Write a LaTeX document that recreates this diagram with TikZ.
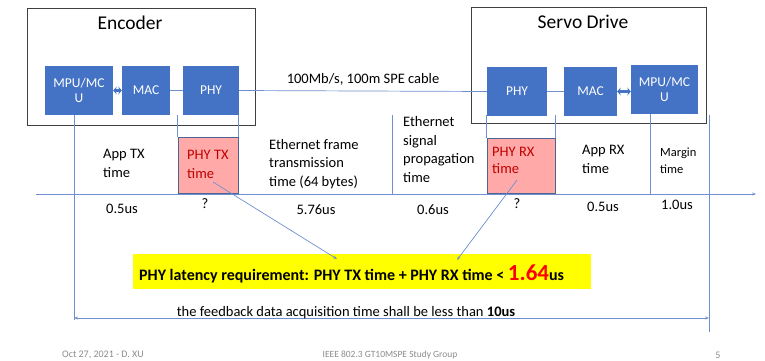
\documentclass[tikz,border=0pt]{standalone}
\usepackage{fontspec}
\setmainfont{Carlito}
\usetikzlibrary{arrows.meta}
\definecolor{blk}{HTML}{4472C4}
\definecolor{lnk}{HTML}{6F8FD0}
\definecolor{pinkfill}{HTML}{FFA9A9}
\definecolor{pinktext}{HTML}{C00000}
\definecolor{hilite}{HTML}{FFFF00}
\definecolor{footgray}{HTML}{8C8C8C}
\tikzset{
  x=1pt, y=-1pt,
  devbox/.style={draw=black!75, line width=1pt},
  chip/.style={fill=blk, text=white, font=\fontsize{13.5}{15.5}\selectfont, align=center, inner sep=0pt},
  wire/.style={draw=lnk, line width=0.7pt},
  tick/.style={draw=lnk, line width=0.6pt},
  phase/.style={fill=pinkfill, draw=lnk!70!black, line width=0.6pt},
  lbl/.style={font=\fontsize{14.5}{18.5}\selectfont, align=left, anchor=base west, inner sep=0pt},
  val/.style={font=\fontsize{14.5}{16}\selectfont, inner sep=0pt},
  foot/.style={text=footgray, inner sep=0pt},
  tip/.style={-{Stealth[length=4pt,width=3pt]}},
  bitip/.style={blk, line width=3pt, {Stealth[length=3.5pt,width=8pt]}-{Stealth[length=3.5pt,width=8pt]}}
}
\begin{document}
\begin{tikzpicture}
\useasboundingbox (0,0) rectangle (765,361);
\fill[white] (0,0) rectangle (765,361);

% device enclosures
\draw[devbox] (27,9) rectangle (255,125);
\draw[devbox] (471,8) rectangle (706,123);
\node[font=\fontsize{19.5}{21}\selectfont, inner sep=0pt] (enct) at (130,23) {Encoder};
\node[font=\fontsize{19.5}{21}\selectfont, inner sep=0pt] (srvt) at (583,22) {Servo Drive};

% encoder blocks
\node[chip, minimum width=68pt, minimum height=49pt] (empu) at (79,90.5) {MPU/MC\\U};
\node[chip, minimum width=48pt, minimum height=49pt] (emac) at (146,90.5) {MAC};
\node[chip, minimum width=56pt, minimum height=49pt] (ephy) at (211,90.5) {PHY};

% servo drive blocks
\node[chip, minimum width=60pt, minimum height=49pt] (sphy) at (517,91.5) {PHY};
\node[chip, minimum width=53pt, minimum height=49pt] (smac) at (590.5,91.5) {MAC};
\node[chip, minimum width=67pt, minimum height=49pt] (smpu) at (664.5,89.5) {MPU/MC\\U};

% links
\draw[wire] (emac.east) -- (ephy.west);
\draw[wire] (ephy.east) -- node[above=1.5pt, font=\fontsize{14.5}{16}\selectfont, text=black] (cable) {100Mb/s, 100m SPE cable} (sphy.west);
\draw[wire] (sphy.east) -- (smac.west);
\draw[bitip] (empu.east) -- (emac.west);
\draw[bitip] (smac.east) -- (smpu.west |- smac.east);

% phase boxes
\node[phase, minimum width=60pt, minimum height=56pt, inner sep=0pt] (txbox) at (208,165) {};
\node[phase, minimum width=68pt, minimum height=55pt, inner sep=0pt] (rxbox) at (521,165.5) {};

% time axis
\coordinate (ax0) at (36,194);
\coordinate (ax1) at (756,194);
\draw[wire, tip] (ax0) -- (ax1);

% interval boundaries
\coordinate (t0a) at (74,115);  \coordinate (t0b) at (74,320);
\coordinate (t4a) at (392,115); \coordinate (t4b) at (392,194);
\coordinate (t7a) at (650,114); \coordinate (t7b) at (650,194);
\coordinate (t8a) at (709,115); \coordinate (t8b) at (709,332);
\draw[tick] (t0a) -- (t0b);
\draw[tick] (txbox.north west) -- ++(0,-22);
\draw[tick] (txbox.north east) -- ++(0,-22);
\draw[tick] (t4a) -- (t4b);
\draw[tick] (rxbox.north west) -- ++(0,-23);
\draw[tick] (rxbox.north east) -- ++(0,-23);
\draw[tick] (t7a) -- (t7b);
\draw[tick] (t8a) -- (t8b);

% interval labels (placed by the baseline of their last line)
\node[lbl] (l1) at (103,177) {App TX\\time};
\node[lbl, text=pinktext] (l2) at (187,178) {PHY TX\\time};
\node[lbl] (l3) at (269,186) {Ethernet frame\\transmission\\time (64 bytes)};
\node[lbl] (l4) at (403,182) {Ethernet\\signal\\propagation\\time};
\node[lbl, text=pinktext, font=\fontsize{14.5}{16.5}\selectfont] (l5) at (492,173) {PHY RX\\time};
\node[lbl] (l6) at (582,173) {App RX\\time};
\node[lbl, font=\fontsize{12.5}{17}\selectfont] (l7) at (660,173.5) {Margin\\time};

% interval values
\node[val] (v1) at (122,209) {0.5us};
\node[val] (v2) at (205,204) {?};
\node[val] (v3) at (316,210) {5.76us};
\node[val] (v4) at (433,210) {0.6us};
\node[val] (v5) at (517,204) {?};
\node[val] (v6) at (603,207) {0.5us};
\node[val] (v7) at (677,205) {1.0us};

% requirement
\node[fill=hilite, minimum width=458pt, minimum height=35pt, inner sep=0pt] (req) at (362,271.5) {};
\node[font=\fontsize{16}{17}\selectfont\bfseries, anchor=base west, inner sep=0pt] (reqt) at (139,280)
  {PHY latency requirement: PHY TX time + PHY RX time < {\fontsize{23}{23}\selectfont\color{red}1.64}us};
\coordinate (txend) at (337,259);
\coordinate (rxend) at (457,260);
\draw[wire, tip] (213,182) -- (txend);
\draw[wire, tip] (517,180) -- (rxend);

% overall budget
\draw[wire, {Stealth[length=4pt,width=3pt]}-{Stealth[length=4pt,width=3pt]}] (t0b |- 0,318) coordinate (b0) -- (t8b |- 0,318) coordinate (b1);
\node[font=\fontsize{14.5}{16}\selectfont, inner sep=0pt, anchor=base] (budget) at (346,316) {the feedback data acquisition time shall be less than \textbf{10us}};

% footer
\node[foot, font=\fontsize{10}{11}\selectfont, anchor=west] (f1) at (62,355) {Oct 27, 2021 - D. XU};
\node[foot, font=\fontsize{9.5}{11}\selectfont] (f2) at (390,355) {IEEE 802.3 GT10MSPE Study Group};
\node[foot, font=\fontsize{10}{11}\selectfont] (f3) at (718,355) {5};
\end{tikzpicture}
\end{document}
